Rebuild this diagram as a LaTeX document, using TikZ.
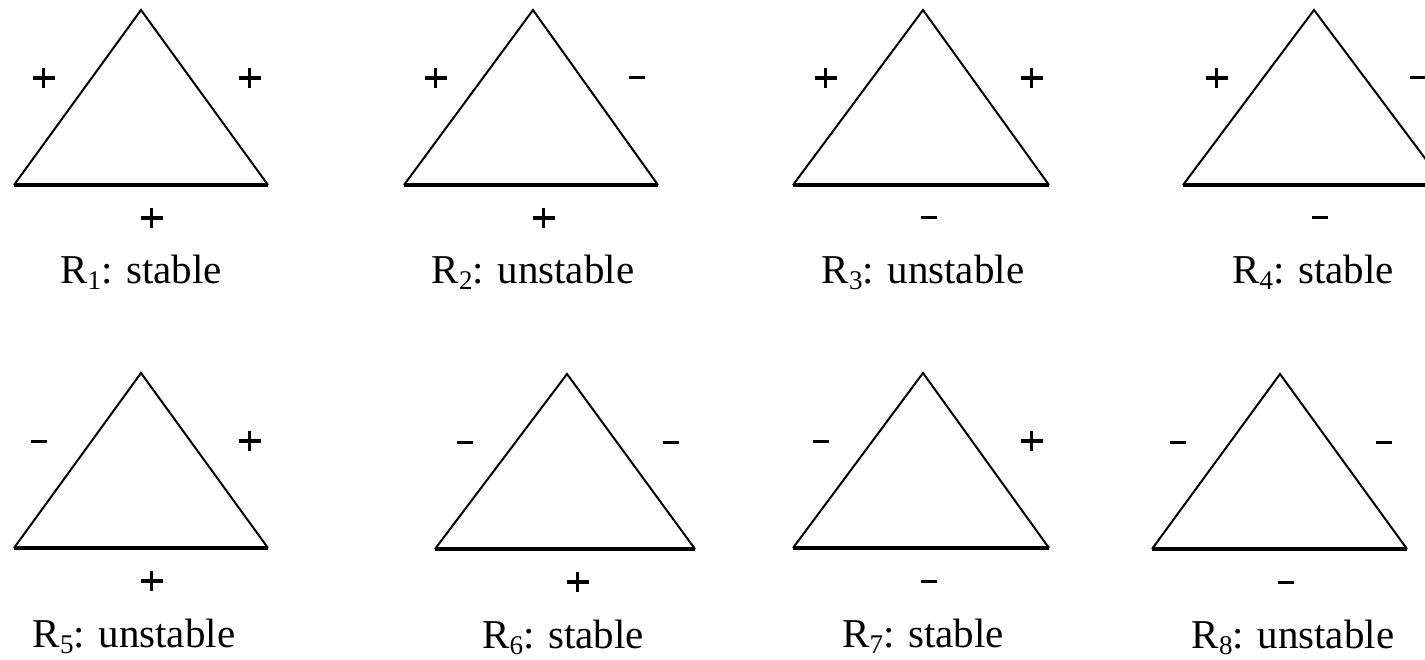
\documentclass[tikz,border=0pt]{standalone}
\usepackage{fontspec}
\setmainfont{Liberation Serif}
\usetikzlibrary{positioning}
\newcommand\psign{\rlap{\rule[-1.7pt]{22pt}{3.4pt}}\hspace{9.3pt}\rule[-10pt]{3.4pt}{20pt}\hspace{9.3pt}}
\newcommand\msign{\rule[-1.5pt]{16pt}{3pt}}
\newcommand\rsub[1]{\raisebox{-6pt}{\fontsize{27}{27}\selectfont #1}}

\begin{document}
\begin{tikzpicture}[x=1pt,y=-1pt,
  side/.style={line width=2pt},
  base/.style={line width=3.4pt},
  sgn/.style={inner sep=0pt},
  rlabel/.style={font=\fontsize{41}{41}\selectfont, inner sep=0pt, anchor=base}]
\useasboundingbox (0,0) rectangle (1425,660);
\clip (0,0) rectangle (1425,660);
% apex x / base left / base right / top y / left, right, bottom sign / label x / index / verdict
\foreach \ax/\bl/\br/\ty/\sgl/\sgr/\sgb/\lx/\i/\res in {
  141/14/268/10/\psign/\psign/\psign/141/1/stable,
  533/404/658/10/\psign/\msign/\psign/533/2/unstable,
  923/793/1049/10/\psign/\psign/\msign/923/3/unstable,
  1314/1183/1445/10/\psign/\msign/\msign/1313/4/stable,
  141/14/268/373/\msign/\psign/\psign/134/5/unstable,
  567/435/695/374/\msign/\msign/\psign/563/6/stable,
  923/793/1049/373/\msign/\psign/\msign/923/7/stable,
  1280/1152/1407/374/\msign/\msign/\msign/1293/8/unstable}{
  \pgfmathsetmacro\by{\ty+175}
  \draw[side] (\bl,\by) -- (\ax,\ty) -- (\br,\by);
  \draw[base] (\bl,\by) -- (\br,\by);
  \node[sgn] (l\i) at (\ax-102,\ty+68) {\sgl};
  \node[sgn] (r\i) at (\ax+104,\ty+68) {\sgr};
  \node[sgn] (b\i) at (\ax+6,\ty+208) {\sgb};
  \node[rlabel] (lab\i) at (\lx,\ty+274) {R\rsub{\i}: \res};
}
\end{tikzpicture}
\end{document}
